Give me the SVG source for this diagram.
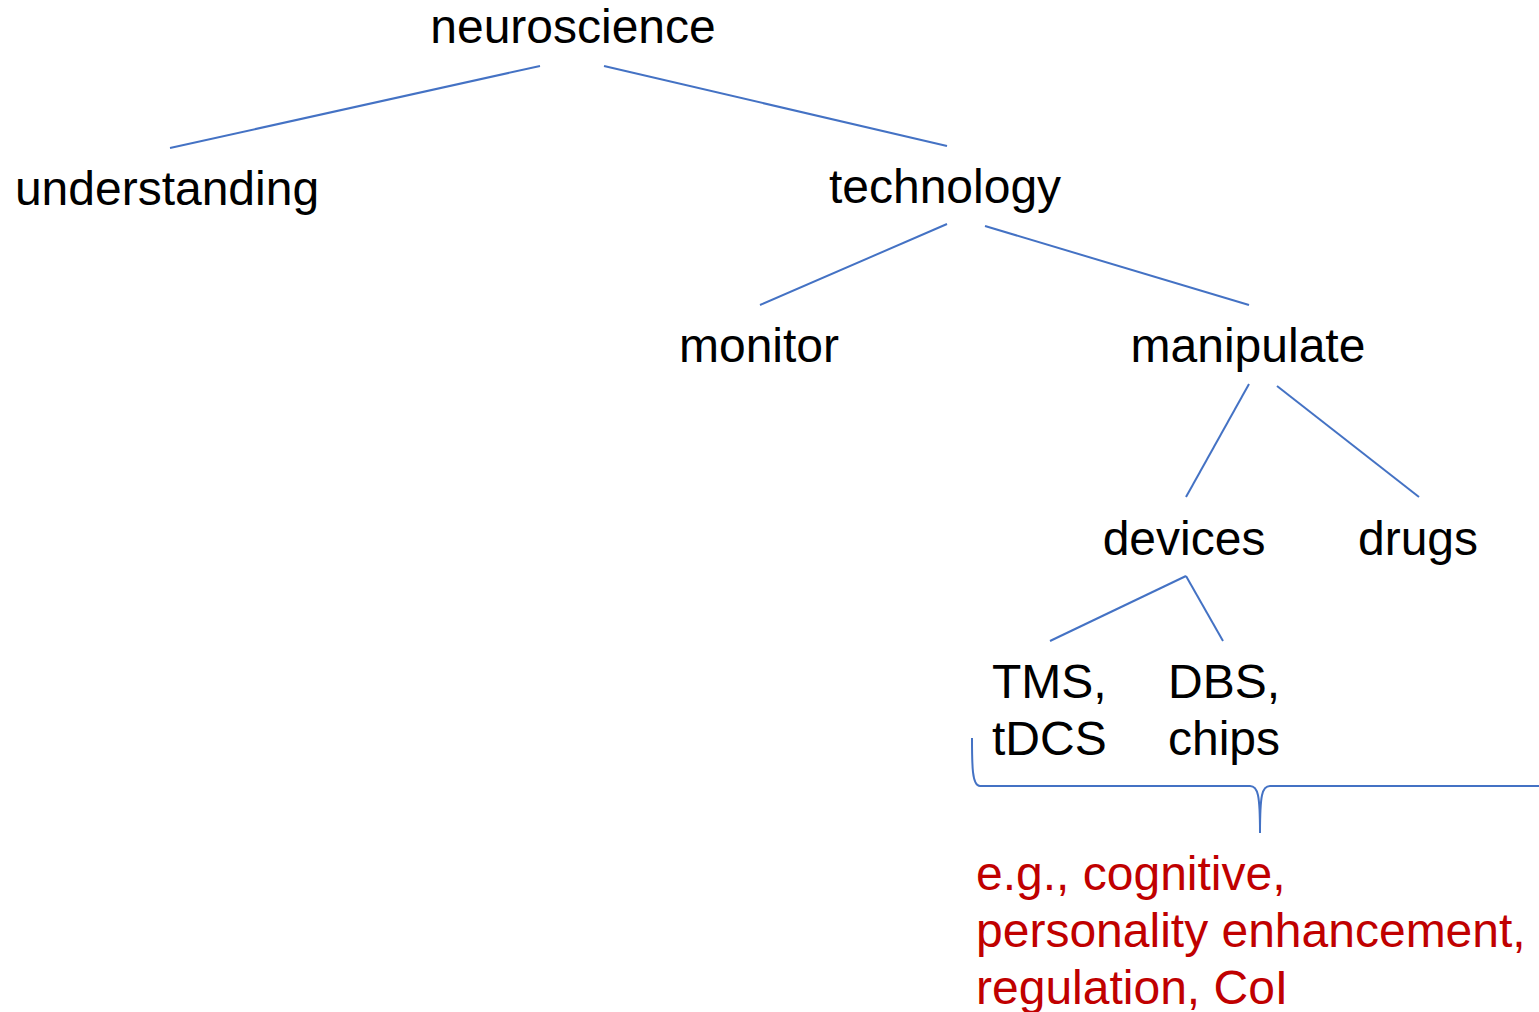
<svg xmlns="http://www.w3.org/2000/svg" width="1539" height="1012" viewBox="0 0 1539 1012">
<style>
text{font-family:"Liberation Sans",Arial,sans-serif;font-size:48px;fill:#000}
.c{text-anchor:middle}
.red{fill:#C00000}
.ln{stroke:#4472C4;stroke-width:2;fill:none}
</style>
<rect width="1539" height="1012" fill="#fff"/>
<g id="connectors">
<line class="ln" x1="540" y1="66" x2="170" y2="148"/>
<line class="ln" x1="604" y1="66" x2="947" y2="146"/>
<line class="ln" x1="947" y1="224" x2="760" y2="305"/>
<line class="ln" x1="985" y1="226" x2="1249" y2="305"/>
<line class="ln" x1="1249" y1="384" x2="1186" y2="497"/>
<line class="ln" x1="1277" y1="386" x2="1419" y2="497"/>
<line class="ln" x1="1186" y1="576" x2="1050" y2="641"/>
<line class="ln" x1="1186" y1="576" x2="1223" y2="641"/>
<path id="brace" class="ln" d="M972,738 C972,765 972,786 980,786 L1250,786 C1258,786 1260,795 1260,833 C1260,795 1262,786 1270,786 L1539,786"/>
</g>
<g id="neuroscience"><text class="c" x="573" y="43">neuroscience</text></g>
<g id="understanding"><text class="c" x="167" y="205">understanding</text></g>
<g id="technology"><text class="c" x="945" y="203">technology</text></g>
<g id="monitor"><text class="c" x="759" y="362">monitor</text></g>
<g id="manipulate"><text class="c" x="1248" y="362">manipulate</text></g>
<g id="devices"><text class="c" x="1184" y="555">devices</text></g>
<g id="drugs"><text class="c" x="1418" y="555">drugs</text></g>
<g id="tms"><text x="992" y="698">TMS,</text><text x="992" y="755">tDCS</text></g>
<g id="dbs"><text x="1168" y="698">DBS,</text><text x="1168" y="755">chips</text></g>
<g id="examples"><text class="red" x="976" y="890">e.g., cognitive,</text><text class="red" x="976" y="947">personality enhancement,</text><text class="red" x="976" y="1004">regulation, CoI</text></g>
</svg>
